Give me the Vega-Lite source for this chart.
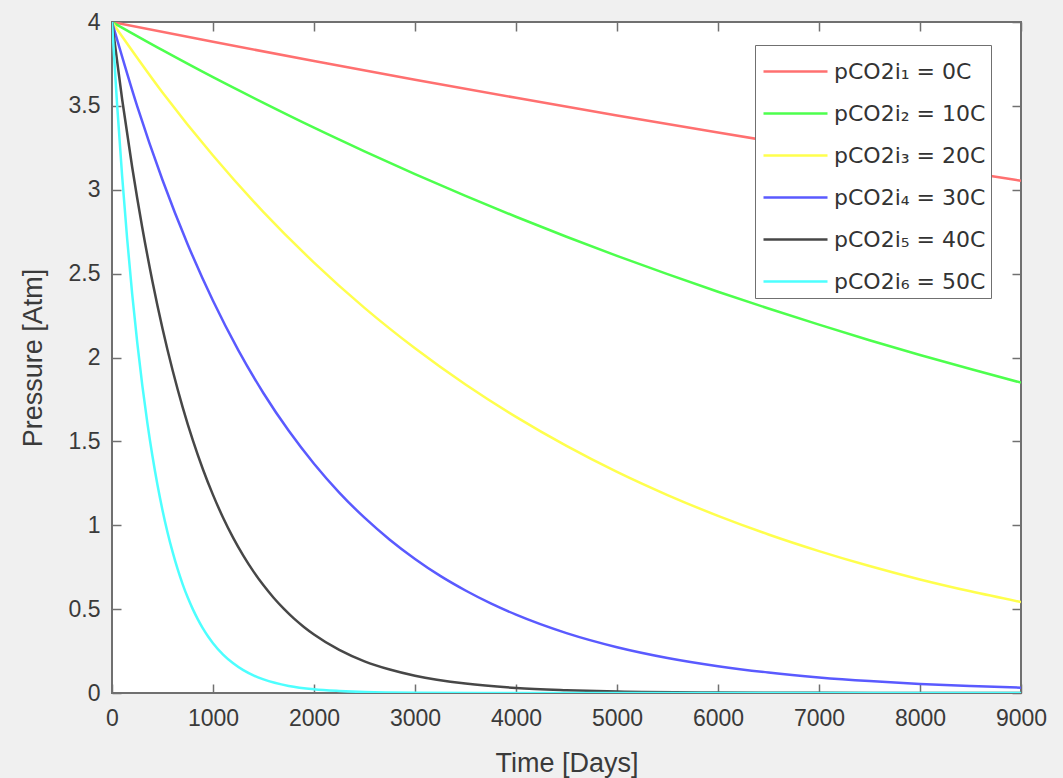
{
  "$schema": "https://vega.github.io/schema/vega-lite/v6.json",
  "width": 909,
  "height": 671,
  "autosize": {"type": "none"},
  "padding": {"left": 112, "top": 22, "right": 42, "bottom": 85},
  "background": "#f0f0f0",
  "config": {
    "view": {"stroke": "#707070", "strokeWidth": 2, "fill": "#ffffff"},
    "font": "Liberation Sans",
    "axis": {
      "grid": false,
      "domain": false,
      "labelFlush": false,
      "tickColor": "#707070",
      "tickWidth": 1.5,
      "tickSize": -9,
      "labelFont": "Liberation Sans",
      "labelFontSize": 23,
      "labelColor": "#3a3a3a",
      "titleFont": "Liberation Sans",
      "titleFontSize": 27,
      "titleFontWeight": "normal",
      "titleColor": "#3a3a3a"
    }
  },
  "data": {
    "values": [
      {"s": "pCO2i₁ = 0C", "t": 0, "p": 4},
      {"s": "pCO2i₁ = 0C", "t": 1000, "p": 3.882},
      {"s": "pCO2i₁ = 0C", "t": 2000, "p": 3.767},
      {"s": "pCO2i₁ = 0C", "t": 3000, "p": 3.656},
      {"s": "pCO2i₁ = 0C", "t": 4000, "p": 3.548},
      {"s": "pCO2i₁ = 0C", "t": 5000, "p": 3.443},
      {"s": "pCO2i₁ = 0C", "t": 6000, "p": 3.341},
      {"s": "pCO2i₁ = 0C", "t": 7000, "p": 3.242},
      {"s": "pCO2i₁ = 0C", "t": 8000, "p": 3.147},
      {"s": "pCO2i₁ = 0C", "t": 9000, "p": 3.054},

      {"s": "pCO2i₂ = 10C", "t": 0, "p": 4},
      {"s": "pCO2i₂ = 10C", "t": 500, "p": 3.832},
      {"s": "pCO2i₂ = 10C", "t": 1000, "p": 3.671},
      {"s": "pCO2i₂ = 10C", "t": 1500, "p": 3.518},
      {"s": "pCO2i₂ = 10C", "t": 2000, "p": 3.37},
      {"s": "pCO2i₂ = 10C", "t": 2500, "p": 3.229},
      {"s": "pCO2i₂ = 10C", "t": 3000, "p": 3.093},
      {"s": "pCO2i₂ = 10C", "t": 3500, "p": 2.963},
      {"s": "pCO2i₂ = 10C", "t": 4000, "p": 2.839},
      {"s": "pCO2i₂ = 10C", "t": 4500, "p": 2.72},
      {"s": "pCO2i₂ = 10C", "t": 5000, "p": 2.606},
      {"s": "pCO2i₂ = 10C", "t": 5500, "p": 2.497},
      {"s": "pCO2i₂ = 10C", "t": 6000, "p": 2.392},
      {"s": "pCO2i₂ = 10C", "t": 6500, "p": 2.292},
      {"s": "pCO2i₂ = 10C", "t": 7000, "p": 2.196},
      {"s": "pCO2i₂ = 10C", "t": 7500, "p": 2.103},
      {"s": "pCO2i₂ = 10C", "t": 8000, "p": 2.015},
      {"s": "pCO2i₂ = 10C", "t": 8500, "p": 1.931},
      {"s": "pCO2i₂ = 10C", "t": 9000, "p": 1.85},

      {"s": "pCO2i₃ = 20C", "t": 0, "p": 4},
      {"s": "pCO2i₃ = 20C", "t": 500, "p": 3.58},
      {"s": "pCO2i₃ = 20C", "t": 1000, "p": 3.204},
      {"s": "pCO2i₃ = 20C", "t": 1500, "p": 2.867},
      {"s": "pCO2i₃ = 20C", "t": 2000, "p": 2.566},
      {"s": "pCO2i₃ = 20C", "t": 2500, "p": 2.296},
      {"s": "pCO2i₃ = 20C", "t": 3000, "p": 2.055},
      {"s": "pCO2i₃ = 20C", "t": 3500, "p": 1.839},
      {"s": "pCO2i₃ = 20C", "t": 4000, "p": 1.646},
      {"s": "pCO2i₃ = 20C", "t": 4500, "p": 1.473},
      {"s": "pCO2i₃ = 20C", "t": 5000, "p": 1.318},
      {"s": "pCO2i₃ = 20C", "t": 5500, "p": 1.18},
      {"s": "pCO2i₃ = 20C", "t": 6000, "p": 1.056},
      {"s": "pCO2i₃ = 20C", "t": 6500, "p": 0.945},
      {"s": "pCO2i₃ = 20C", "t": 7000, "p": 0.846},
      {"s": "pCO2i₃ = 20C", "t": 7500, "p": 0.757},
      {"s": "pCO2i₃ = 20C", "t": 8000, "p": 0.677},
      {"s": "pCO2i₃ = 20C", "t": 8500, "p": 0.606},
      {"s": "pCO2i₃ = 20C", "t": 9000, "p": 0.542},

      {"s": "pCO2i₄ = 30C", "t": 0, "p": 4},
      {"s": "pCO2i₄ = 30C", "t": 250, "p": 3.497},
      {"s": "pCO2i₄ = 30C", "t": 500, "p": 3.058},
      {"s": "pCO2i₄ = 30C", "t": 750, "p": 2.674},
      {"s": "pCO2i₄ = 30C", "t": 1000, "p": 2.338},
      {"s": "pCO2i₄ = 30C", "t": 1250, "p": 2.044},
      {"s": "pCO2i₄ = 30C", "t": 1500, "p": 1.787},
      {"s": "pCO2i₄ = 30C", "t": 1750, "p": 1.563},
      {"s": "pCO2i₄ = 30C", "t": 2000, "p": 1.367},
      {"s": "pCO2i₄ = 30C", "t": 2250, "p": 1.195},
      {"s": "pCO2i₄ = 30C", "t": 2500, "p": 1.045},
      {"s": "pCO2i₄ = 30C", "t": 2750, "p": 0.914},
      {"s": "pCO2i₄ = 30C", "t": 3000, "p": 0.799},
      {"s": "pCO2i₄ = 30C", "t": 3250, "p": 0.698},
      {"s": "pCO2i₄ = 30C", "t": 3500, "p": 0.611},
      {"s": "pCO2i₄ = 30C", "t": 3750, "p": 0.534},
      {"s": "pCO2i₄ = 30C", "t": 4000, "p": 0.467},
      {"s": "pCO2i₄ = 30C", "t": 4500, "p": 0.357},
      {"s": "pCO2i₄ = 30C", "t": 5000, "p": 0.273},
      {"s": "pCO2i₄ = 30C", "t": 5500, "p": 0.209},
      {"s": "pCO2i₄ = 30C", "t": 6000, "p": 0.16},
      {"s": "pCO2i₄ = 30C", "t": 6500, "p": 0.122},
      {"s": "pCO2i₄ = 30C", "t": 7000, "p": 0.093},
      {"s": "pCO2i₄ = 30C", "t": 7500, "p": 0.071},
      {"s": "pCO2i₄ = 30C", "t": 8000, "p": 0.054},
      {"s": "pCO2i₄ = 30C", "t": 8500, "p": 0.042},
      {"s": "pCO2i₄ = 30C", "t": 9000, "p": 0.032},

      {"s": "pCO2i₅ = 40C", "t": 0, "p": 4},
      {"s": "pCO2i₅ = 40C", "t": 100, "p": 3.541},
      {"s": "pCO2i₅ = 40C", "t": 200, "p": 3.134},
      {"s": "pCO2i₅ = 40C", "t": 300, "p": 2.774},
      {"s": "pCO2i₅ = 40C", "t": 400, "p": 2.455},
      {"s": "pCO2i₅ = 40C", "t": 500, "p": 2.173},
      {"s": "pCO2i₅ = 40C", "t": 600, "p": 1.924},
      {"s": "pCO2i₅ = 40C", "t": 700, "p": 1.703},
      {"s": "pCO2i₅ = 40C", "t": 800, "p": 1.507},
      {"s": "pCO2i₅ = 40C", "t": 900, "p": 1.334},
      {"s": "pCO2i₅ = 40C", "t": 1000, "p": 1.181},
      {"s": "pCO2i₅ = 40C", "t": 1100, "p": 1.045},
      {"s": "pCO2i₅ = 40C", "t": 1200, "p": 0.925},
      {"s": "pCO2i₅ = 40C", "t": 1300, "p": 0.819},
      {"s": "pCO2i₅ = 40C", "t": 1400, "p": 0.725},
      {"s": "pCO2i₅ = 40C", "t": 1500, "p": 0.642},
      {"s": "pCO2i₅ = 40C", "t": 1600, "p": 0.568},
      {"s": "pCO2i₅ = 40C", "t": 1700, "p": 0.503},
      {"s": "pCO2i₅ = 40C", "t": 1800, "p": 0.445},
      {"s": "pCO2i₅ = 40C", "t": 1900, "p": 0.394},
      {"s": "pCO2i₅ = 40C", "t": 2000, "p": 0.349},
      {"s": "pCO2i₅ = 40C", "t": 2250, "p": 0.257},
      {"s": "pCO2i₅ = 40C", "t": 2500, "p": 0.189},
      {"s": "pCO2i₅ = 40C", "t": 2750, "p": 0.14},
      {"s": "pCO2i₅ = 40C", "t": 3000, "p": 0.103},
      {"s": "pCO2i₅ = 40C", "t": 3500, "p": 0.056},
      {"s": "pCO2i₅ = 40C", "t": 4000, "p": 0.03},
      {"s": "pCO2i₅ = 40C", "t": 4500, "p": 0.017},
      {"s": "pCO2i₅ = 40C", "t": 5000, "p": 0.009},
      {"s": "pCO2i₅ = 40C", "t": 6000, "p": 0.003},
      {"s": "pCO2i₅ = 40C", "t": 7000, "p": 0.001},
      {"s": "pCO2i₅ = 40C", "t": 8000, "p": 0},
      {"s": "pCO2i₅ = 40C", "t": 9000, "p": 0},

      {"s": "pCO2i₆ = 50C", "t": 0, "p": 4},
      {"s": "pCO2i₆ = 50C", "t": 50, "p": 3.512},
      {"s": "pCO2i₆ = 50C", "t": 100, "p": 3.084},
      {"s": "pCO2i₆ = 50C", "t": 150, "p": 2.708},
      {"s": "pCO2i₆ = 50C", "t": 200, "p": 2.378},
      {"s": "pCO2i₆ = 50C", "t": 250, "p": 2.088},
      {"s": "pCO2i₆ = 50C", "t": 300, "p": 1.834},
      {"s": "pCO2i₆ = 50C", "t": 350, "p": 1.61},
      {"s": "pCO2i₆ = 50C", "t": 400, "p": 1.414},
      {"s": "pCO2i₆ = 50C", "t": 450, "p": 1.241},
      {"s": "pCO2i₆ = 50C", "t": 500, "p": 1.09},
      {"s": "pCO2i₆ = 50C", "t": 550, "p": 0.957},
      {"s": "pCO2i₆ = 50C", "t": 600, "p": 0.841},
      {"s": "pCO2i₆ = 50C", "t": 650, "p": 0.738},
      {"s": "pCO2i₆ = 50C", "t": 700, "p": 0.648},
      {"s": "pCO2i₆ = 50C", "t": 750, "p": 0.569},
      {"s": "pCO2i₆ = 50C", "t": 800, "p": 0.5},
      {"s": "pCO2i₆ = 50C", "t": 850, "p": 0.439},
      {"s": "pCO2i₆ = 50C", "t": 900, "p": 0.385},
      {"s": "pCO2i₆ = 50C", "t": 950, "p": 0.338},
      {"s": "pCO2i₆ = 50C", "t": 1000, "p": 0.297},
      {"s": "pCO2i₆ = 50C", "t": 1100, "p": 0.229},
      {"s": "pCO2i₆ = 50C", "t": 1200, "p": 0.177},
      {"s": "pCO2i₆ = 50C", "t": 1300, "p": 0.136},
      {"s": "pCO2i₆ = 50C", "t": 1400, "p": 0.105},
      {"s": "pCO2i₆ = 50C", "t": 1500, "p": 0.081},
      {"s": "pCO2i₆ = 50C", "t": 1750, "p": 0.042},
      {"s": "pCO2i₆ = 50C", "t": 2000, "p": 0.022},
      {"s": "pCO2i₆ = 50C", "t": 2250, "p": 0.012},
      {"s": "pCO2i₆ = 50C", "t": 2500, "p": 0.006},
      {"s": "pCO2i₆ = 50C", "t": 3000, "p": 0.002},
      {"s": "pCO2i₆ = 50C", "t": 4000, "p": 0},
      {"s": "pCO2i₆ = 50C", "t": 5000, "p": 0},
      {"s": "pCO2i₆ = 50C", "t": 6000, "p": 0},
      {"s": "pCO2i₆ = 50C", "t": 7000, "p": 0},
      {"s": "pCO2i₆ = 50C", "t": 8000, "p": 0},
      {"s": "pCO2i₆ = 50C", "t": 9000, "p": 0}
    ]
  },
  "layer": [
    {
      "mark": {"type": "line", "strokeWidth": 2.5, "interpolate": "monotone", "clip": true},
      "encoding": {
        "x": {
          "field": "t",
          "type": "quantitative",
          "scale": {"domain": [0, 9000], "nice": false},
          "axis": {
            "orient": "bottom",
            "values": [0, 1000, 2000, 3000, 4000, 5000, 6000, 7000, 8000, 9000],
            "format": "d",
            "title": "Time [Days]",
            "labelPadding": 23,
            "titlePadding": 20
          }
        },
        "y": {
          "field": "p",
          "type": "quantitative",
          "scale": {"domain": [0, 4], "nice": false},
          "axis": {
            "orient": "left",
            "values": [0, 0.5, 1, 1.5, 2, 2.5, 3, 3.5, 4],
            "format": "~g",
            "title": "Pressure [Atm]",
            "labelPadding": 21,
            "titlePadding": 21
          }
        },
        "color": {
          "field": "s",
          "type": "nominal",
          "scale": {
            "domain": ["pCO2i₁ = 0C", "pCO2i₂ = 10C", "pCO2i₃ = 20C", "pCO2i₄ = 30C", "pCO2i₅ = 40C", "pCO2i₆ = 50C"],
            "range": ["#ff7070", "#4dff4d", "#ffff4d", "#5a5aff", "#474747", "#4dffff"]
          },
          "legend": {
            "orient": "none",
            "legendX": 643,
            "legendY": 23,
            "title": null,
            "symbolType": "M-1.6,0H1.6",
            "symbolSize": 1600,
            "symbolOffset": 14,
            "symbolStrokeWidth": 2.5,
            "labelFont": "DejaVu Sans",
            "labelFontSize": 22,
            "labelColor": "#333333",
            "labelOffset": 17,
            "strokeColor": "#707070",
            "fillColor": "#ffffff",
            "padding": 5,
            "rowPadding": 9
          }
        }
      }
    },
    {
      "mark": {"type": "point", "opacity": 0},
      "encoding": {
        "x": {
          "field": "t",
          "type": "quantitative",
          "axis": {
            "orient": "top",
            "values": [0, 1000, 2000, 3000, 4000, 5000, 6000, 7000, 8000, 9000],
            "labels": false,
            "title": null
          }
        },
        "y": {
          "field": "p",
          "type": "quantitative",
          "axis": {
            "orient": "right",
            "values": [0, 0.5, 1, 1.5, 2, 2.5, 3, 3.5, 4],
            "labels": false,
            "title": null
          }
        }
      }
    }
  ],
  "resolve": {"axis": {"x": "independent", "y": "independent"}}
}
